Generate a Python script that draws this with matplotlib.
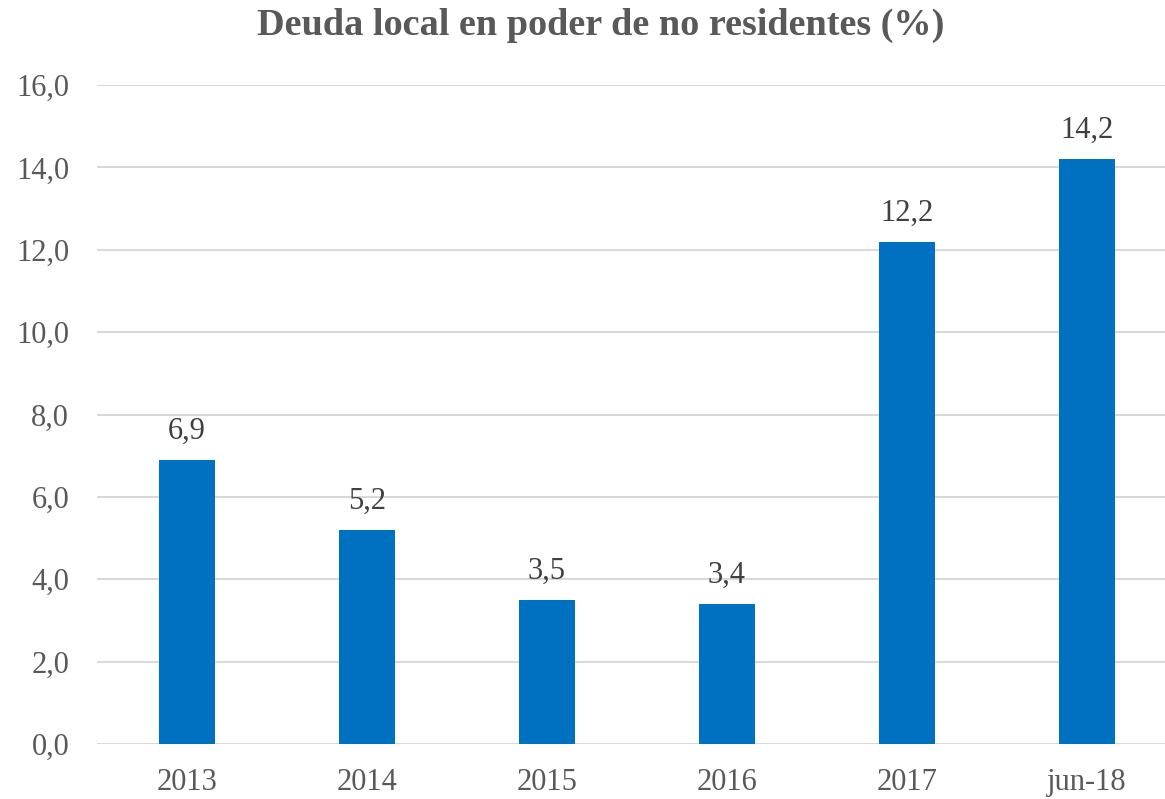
import matplotlib
matplotlib.use("Agg")
from matplotlib import pyplot as plt

categories = ['2013', '2014', '2015', '2016', '2017', 'jun-18']
values = [6.9, 5.2, 3.5, 3.4, 12.2, 14.2]
y_ticks = [0, 2, 4, 6, 8, 10, 12, 14, 16]

plt.rcParams['font.family'] = ['Liberation Serif', 'DejaVu Serif']

fig = plt.figure(figsize=(11.65, 7.99), dpi=100)
ax = fig.add_axes([97 / 1165, 55 / 799, 1080 / 1165, 659 / 799])

x = list(range(len(categories)))
ax.bar(x, values, width=0.31, color='#0070C0', zorder=3)

# etiquetas de datos con coma decimal
for xi, v in zip(x, values):
    ax.annotate(('%.1f' % v).replace('.', ','), (xi, v), xytext=(0, 10),
                textcoords='offset points', ha='center', va='bottom',
                fontsize=22, color='#404040')

ax.set_xlim(-0.5, len(categories) - 0.5)
ax.set_ylim(0, 16)
ax.set_yticks(y_ticks)
ax.set_yticklabels([('%.1f' % t).replace('.', ',') for t in y_ticks])
ax.set_xticks(x)
ax.set_xticklabels(categories)
ax.tick_params(axis='both', length=0, labelsize=22, labelcolor='#595959')
ax.tick_params(axis='y', pad=20)
ax.tick_params(axis='x', pad=17)

ax.grid(axis='y', color='#D9D9D9', linewidth=1.5, zorder=0)
for s in ax.spines.values():
    s.set_visible(False)

fig.text(0.516, 0.968, 'Deuda local en poder de no residentes (%)', ha='center', va='center',
         fontsize=27.5, fontweight='bold', color='#595959')

fig.savefig('out.png', dpi=100)
